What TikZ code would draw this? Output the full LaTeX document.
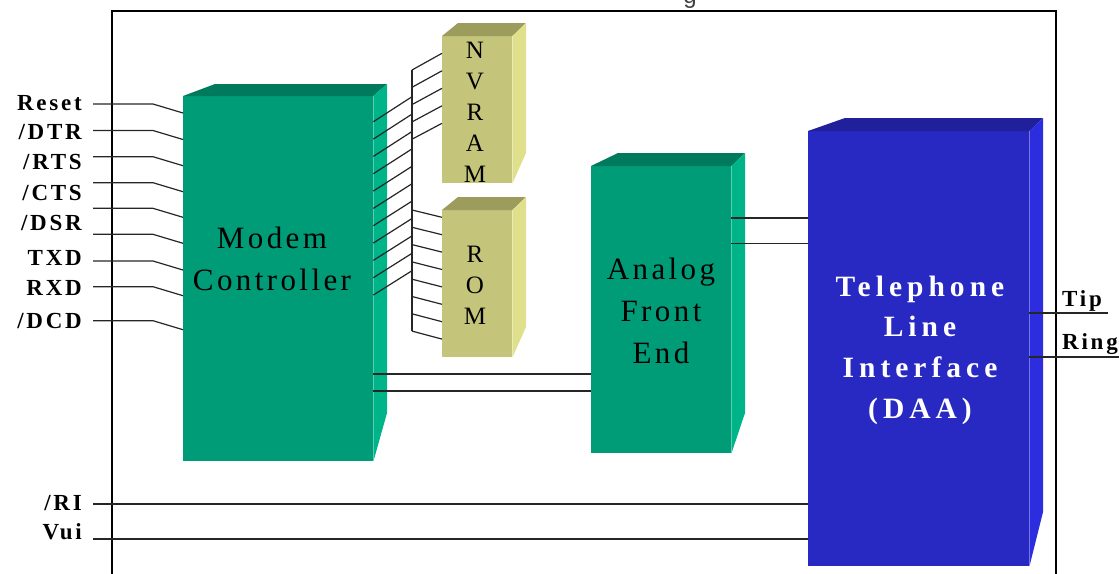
\documentclass[tikz,border=0pt]{standalone}
\usepackage{fontspec}
\setmainfont{Liberation Serif}
\newfontfamily\lblfont[LetterSpace=12]{Liberation Serif}
\newfontfamily\daafnt[LetterSpace=17]{Liberation Serif}
\newfontfamily\blkfont[LetterSpace=11]{Liberation Serif}
\newfontfamily\memfont{Liberation Serif}
\newfontfamily\ttlfont{Liberation Sans}
\definecolor{gfront}{RGB}{0,155,119}
\definecolor{gtop}{RGB}{0,122,92}
\definecolor{gside}{RGB}{0,180,137}
\definecolor{yfront}{RGB}{196,197,122}
\definecolor{ytop}{RGB}{156,156,92}
\definecolor{yside}{RGB}{224,224,140}
\definecolor{bfront}{RGB}{40,40,195}
\definecolor{btop}{RGB}{32,32,155}
\definecolor{bside}{RGB}{45,45,224}
\begin{document}
\begin{tikzpicture}[x=1pt,y=-1pt,
  face/.style={draw=none, inner sep=0pt, anchor=north west},
  wire/.style={line width=1.2pt, draw=black!85},
  frame/.style={line width=2.4pt, draw=black},
  sig/.style={font={\lblfont\bfseries\fontsize{23}{26}\selectfont}, inner sep=0pt},
  blk/.style={font={\blkfont\fontsize{31}{42}\selectfont}, align=center, inner sep=0pt},
  daatxt/.style={font={\daafnt\bfseries\fontsize{29.5}{40.7}\selectfont}, align=center, inner sep=0pt, text=white},
  mem/.style={font={\memfont\fontsize{25}{31}\selectfont}, align=center, inner sep=0pt}]
\useasboundingbox (0,0) rectangle (1119,573);

% partial title glyph at the top edge
\node[font={\ttlfont\fontsize{24}{28}\selectfont}, text=black!75, anchor=base, inner sep=0pt] (ttl) at (690,3) {g};

% outer frame
\coordinate (fbl) at (112,585);
\coordinate (ftl) at (112,11);
\coordinate (ftr) at (1056,11);
\coordinate (fbr) at (1056,585);
\draw[frame] (fbl) -- (ftl) -- (ftr) -- (fbr);

% ---------- blocks (front faces) ----------
\node[face, fill=gfront, minimum width=190pt, minimum height=365pt] (mc) at (183,96) {};
\node[face, fill=yfront, minimum width=70pt, minimum height=147pt] (nv) at (442,36) {};
\node[face, fill=yfront, minimum width=70pt, minimum height=147pt] (rom) at (442,210) {};
\node[face, fill=gfront, minimum width=140pt, minimum height=287pt] (afe) at (591,166) {};
\node[face, fill=bfront, minimum width=221pt, minimum height=435pt] (daa) at (808,131) {};

% top and side faces
\fill[gtop] (mc.north west) -- (215,84) -- (387,84) -- (mc.north east) -- cycle;
\fill[gside] (mc.north east) -- (387,84) -- (387,413) -- (mc.south east) -- cycle;
\fill[ytop] (nv.north west) -- (458,23) -- (526,23) -- (nv.north east) -- cycle;
\fill[yside] (nv.north east) -- (526,23) -- (526,153) -- (nv.south east) -- cycle;
\fill[ytop] (rom.north west) -- (458,197) -- (526,197) -- (rom.north east) -- cycle;
\fill[yside] (rom.north east) -- (526,197) -- (526,327) -- (rom.south east) -- cycle;
\fill[gtop] (afe.north west) -- (618,153) -- (745,153) -- (afe.north east) -- cycle;
\fill[gside] (afe.north east) -- (745,153) -- (745,413) -- (afe.south east) -- cycle;
\fill[btop] (daa.north west) -- (845,118) -- (1043,118) -- (daa.north east) -- cycle;
\fill[bside] (daa.north east) -- (1043,118) -- (1043,512) -- (daa.south east) -- cycle;

% block texts
\node[blk] (mctxt) at (272,259) {Modem\\Controller};
\node[blk] (afetxt) at (661,311) {Analog\\Front\\End};
\node[daatxt] (daatext) at (920,350) {Telephone\\Line\\Interface\\(DAA)};
\node[mem] (nvtxt) at (475,112) {N\\V\\R\\A\\M};
\node[mem] (romtxt) at (475,285) {R\\O\\M};

% ---------- left signals ----------
\node[sig, anchor=east] (lReset) at (82,103) {Reset};
\node[sig, anchor=east] (lDTR) at (82,132) {/DTR};
\node[sig, anchor=east] (lRTS) at (82,162) {/RTS};
\node[sig, anchor=east] (lCTS) at (82,193) {/CTS};
\node[sig, anchor=east] (lDSR) at (82,223) {/DSR};
\node[sig, anchor=east] (lTXD) at (82,258) {TXD};
\node[sig, anchor=east] (lRXD) at (82,288) {RXD};
\node[sig, anchor=east] (lDCD) at (82,321) {/DCD};
\node[sig, anchor=east] (lRI) at (82,503) {/RI};
\node[sig, anchor=east] (lVui) at (82,532) {Vui};

\foreach \n/\y in {1/104,2/130.5,3/156.7,4/182.7,5/208.3,6/234.3,7/261,8/286.7,9/320.7} {
  \coordinate (in\n) at (93,\y);
  \draw[wire] (in\n) -- ++(60,0) -- (mc.west |- 0,\y+9);
}
\coordinate (inRI) at (93,504);
\coordinate (inVui) at (93,539);
\draw[wire] (inRI) -- (daa.west |- inRI);
\draw[wire] (inVui) -- (daa.west |- inVui);

% ---------- memory bus ----------
\coordinate (busT) at (412,70);
\coordinate (busB) at (412,331);
\draw[wire] (busT) -- (busB);
\foreach \i in {0,...,10} {
  \draw[wire] (mc.east |- 0,121.7+17.33*\i) -- (busT |- 0,96.7+17.4*\i);
}
\foreach \i in {0,...,4} {
  \draw[wire] (busT |- 0,70+17.3*\i) -- (nv.west |- 0,53.3+17.5*\i);
}
\foreach \i in {0,...,7} {
  \draw[wire] (busT |- 0,210+17.3*\i) -- (rom.west |- 0,217.3+17.4*\i);
}

% ---------- block links ----------
\draw[wire] (mc.east |- 0,374) -- (afe.west |- 0,374);
\draw[wire] (mc.east |- 0,391) -- (afe.west |- 0,391);
\draw[wire] (afe.east |- 0,218) -- (daa.west |- 0,218);
\draw[wire] (afe.east |- 0,243.5) -- (daa.west |- 0,243.5);

% ---------- line side ----------
\node[sig, anchor=west] (lTip) at (1062,301) {Tip};
\node[sig, anchor=west] (lRing) at (1062,344) {Ring};
\coordinate (tipEnd) at (1108,313);
\coordinate (ringEnd) at (1119,357);
\draw[wire] (daa.east |- tipEnd) -- (tipEnd);
\draw[wire] (daa.east |- ringEnd) -- (ringEnd);
\end{tikzpicture}
\end{document}
